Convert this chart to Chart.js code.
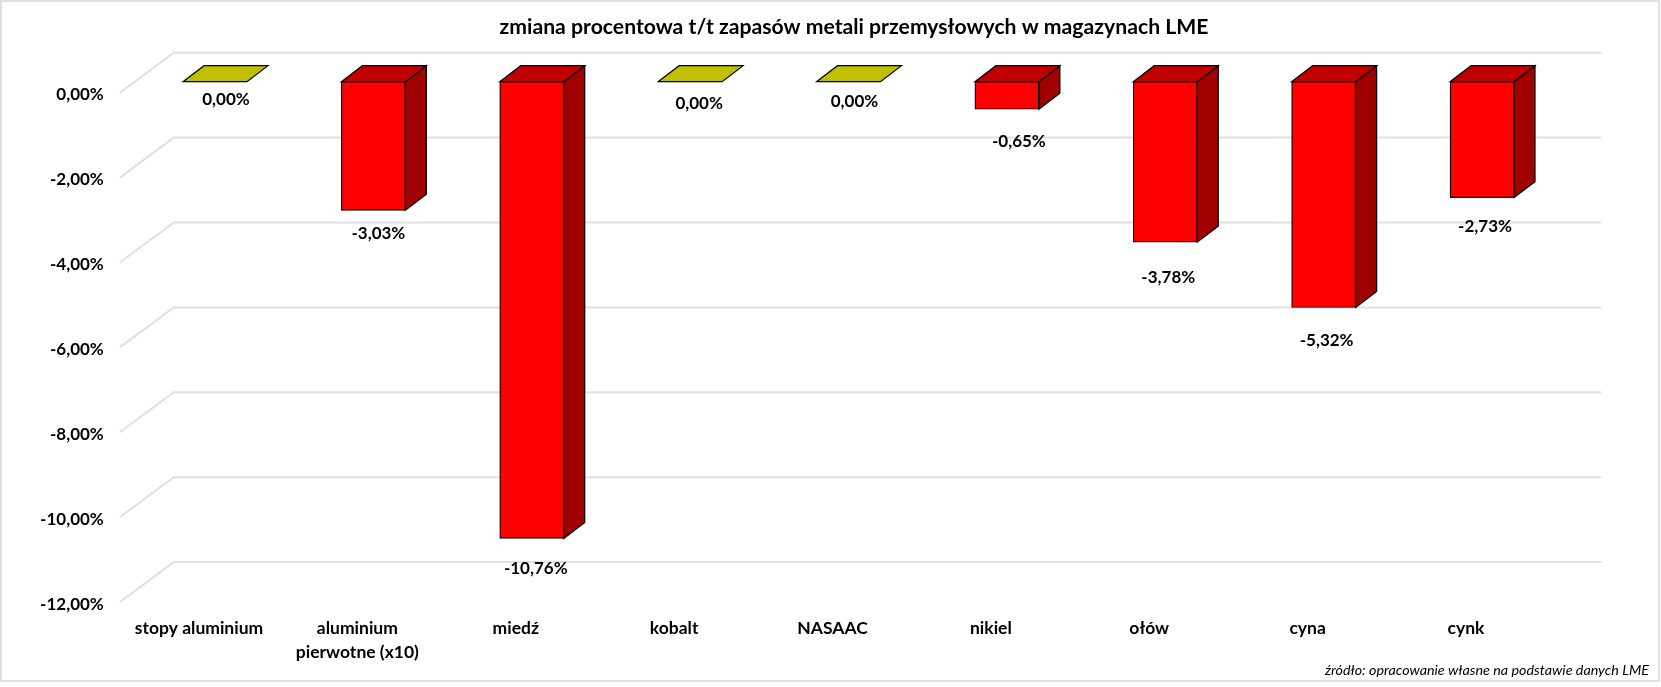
<!DOCTYPE html>
<html lang="pl">
<head>
<meta charset="utf-8">
<title>zmiana procentowa t/t zapasów metali przemysłowych</title>
<script src="https://cdn.jsdelivr.net/npm/chart.js@4"></script>
<style>
  html, body { margin: 0; padding: 0; background: #fff; }
  canvas { display: block; }
</style>
</head>
<body>
<canvas id="lme-chart" width="1661" height="687"></canvas>
<script>
// dane
const categories = ['stopy aluminium', ['aluminium', 'pierwotne (x10)'], 'miedź', 'kobalt', 'NASAAC', 'nikiel', 'ołów', 'cyna', 'cynk'];
const changes = [0, -3.03, -10.76, 0, 0, -0.65, -3.78, -5.32, -2.73];
const yTicks = [0, -2, -4, -6, -8, -10, -12];
const chartTitle = 'zmiana procentowa t/t zapasów metali przemysłowych w magazynach LME';
const sourceNote = 'źródło: opracowanie własne na podstawie danych LME';

// przesunięcia etykiet danych względem słupka [dx, dy]
const labelNudge = [[11, 18], [5, 23], [4, 30], [9, 22], [6, 20], [12, 32], [3, 35], [3, 33], [3, 29]];

const FONT = 'Lato, Carlito, Calibri, sans-serif';
const GRID = '#E0E0E0';
const DEPTH_X = 21, DEPTH_Y = 16;        // głębokość słupka
const FLOOR_BACK = 29, FLOOR_FRONT = 11; // tylna i przednia ściana osi Y
const FLOOR_X = 38, FLOOR_FRONT_X = 16;

const fmtPct = (v) => v.toFixed(2).replace('.', ',') + '%';

function poly(ctx, pts, fill) {
  ctx.beginPath();
  pts.forEach((p, i) => (i ? ctx.lineTo(p[0], p[1]) : ctx.moveTo(p[0], p[1])));
  ctx.closePath();
  ctx.fillStyle = fill;
  ctx.fill();
  ctx.lineWidth = 1.2;
  ctx.strokeStyle = '#000';
  ctx.stroke();
}

// siatka "3D" za słupkami + boki słupków
const fake3d = {
  id: 'fake3d',
  beforeDatasetsDraw(chart) {
    const { ctx, chartArea, scales } = chart;
    ctx.save();
    ctx.strokeStyle = GRID;
    ctx.lineWidth = 2;
    yTicks.forEach((t) => {
      const y = scales.y.getPixelForValue(t);
      ctx.beginPath();
      ctx.moveTo(chartArea.left - FLOOR_FRONT_X, y + FLOOR_FRONT);
      ctx.lineTo(chartArea.left + FLOOR_X, y - FLOOR_BACK);
      ctx.lineTo(chartArea.right + FLOOR_X + 2, y - FLOOR_BACK);
      ctx.stroke();
    });
    chart.getDatasetMeta(0).data.forEach((bar, i) => {
      const left = bar.x - bar.width / 2, right = bar.x + bar.width / 2;
      const top = Math.min(bar.y, bar.base), bottom = Math.max(bar.y, bar.base);
      if (bottom > top) {
        poly(ctx, [[right, top], [right + DEPTH_X, top - DEPTH_Y], [right + DEPTH_X, bottom - DEPTH_Y], [right, bottom]], '#A00000');
      }
      poly(ctx, [[left, top], [left + DEPTH_X, top - DEPTH_Y], [right + DEPTH_X, top - DEPTH_Y], [right, top]],
        changes[i] === 0 ? '#C0C000' : '#C00000');
    });
    ctx.restore();
  },
  afterDraw(chart) {
    const { ctx, width } = chart;
    ctx.save();
    ctx.strokeStyle = GRID;
    ctx.lineWidth = 2;
    ctx.strokeRect(1, 1, width - 3, 680);

    ctx.fillStyle = '#000';
    ctx.textBaseline = 'middle';
    ctx.textAlign = 'center';
    ctx.font = 'bold 21.2px ' + FONT;
    ctx.fillText(chartTitle, 854, 27);

    ctx.font = 'bold 17px ' + FONT;
    chart.getDatasetMeta(0).data.forEach((bar, i) => {
      const [dx, dy] = labelNudge[i];
      ctx.fillText(fmtPct(changes[i]), bar.x + dx, Math.max(bar.y, bar.base) + dy);
    });

    ctx.textAlign = 'right';
    ctx.font = 'italic 14.3px ' + FONT;
    ctx.fillText(sourceNote, 1649, 670);
    ctx.restore();
  },
};

new Chart(document.getElementById('lme-chart'), {
  type: 'bar',
  data: {
    labels: categories,
    datasets: [{
      data: changes,
      backgroundColor: '#FF0000',
      borderColor: '#000',
      borderWidth: 1.2,
      borderSkipped: false,
      barThickness: 64,
    }],
  },
  plugins: [fake3d],
  options: {
    responsive: false,
    animation: false,
    layout: { padding: { top: 81.7, right: 99.8, bottom: 0, left: 0 } },
    plugins: { legend: { display: false }, title: { display: false }, tooltip: { enabled: false } },
    scales: {
      x: {
        grid: { display: false },
        border: { display: false },
        afterFit: (s) => { s.height = 95.9; },
        ticks: {
          autoSkip: false,
          maxRotation: 0,
          padding: 18,
          labelOffset: -16,
          color: '#000',
          font: { family: FONT, size: 17.5, weight: 'bold', lineHeight: 1.33 },
        },
      },
      y: {
        min: -12,
        max: 0,
        grid: { display: false, drawTicks: false },
        border: { display: false },
        afterFit: (s) => { s.width = 135.8; },
        afterBuildTicks: (s) => { s.ticks = yTicks.map((value) => ({ value })); },
        ticks: {
          padding: 32,
          labelOffset: 13,
          color: '#000',
          font: { family: FONT, size: 17, weight: 'bold' },
          callback: (v) => fmtPct(v),
        },
      },
    },
  },
});
</script>
</body>
</html>
